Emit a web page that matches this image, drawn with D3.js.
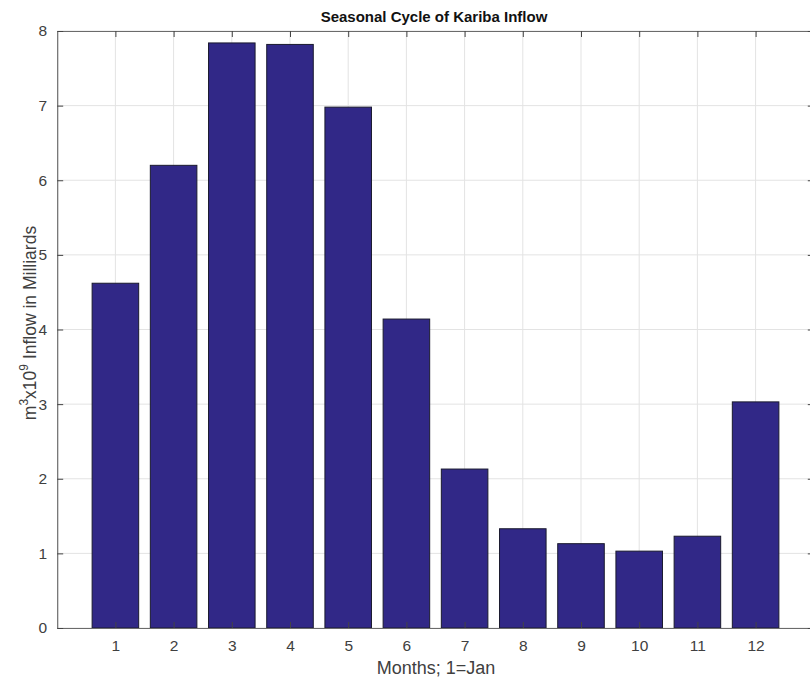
<!DOCTYPE html>
<html><head><meta charset="utf-8">
<script src="https://cdn.jsdelivr.net/npm/d3@7"></script>
<style>body{margin:0;background:#fff}svg{display:block;font-family:"Liberation Sans",Arial,sans-serif}</style>
</head><body><svg id="c" width="810" height="680"></svg>
<script>
const months = [1,2,3,4,5,6,7,8,9,10,11,12];
const inflow = [4.62,6.2,7.84,7.82,6.98,4.14,2.13,1.33,1.13,1.03,1.23,3.03];
const yTicks = [0,1,2,3,4,5,6,7,8];
const title = "Seasonal Cycle of Kariba Inflow";
const xLabel = "Months; 1=Jan";

const svg = d3.select("#c");
const L=57.2, R=813.8, T=31, B=628;
const x = d3.scaleLinear().domain([0,13]).range([L,R]);
const y = d3.scaleLinear().domain([0,8]).range([B,T]);
const bw = x(0.8)-x(0);
const txt="#404040";

// grid
const g = svg.append("g");
g.selectAll(".vg").data(months).join("line").attr("x1",d=>x(d)).attr("x2",d=>x(d)).attr("y1",T).attr("y2",B).attr("stroke","#e3e3e3");
g.selectAll(".hg").data(yTicks).join("line").attr("x1",L).attr("x2",R).attr("y1",d=>y(d)).attr("y2",d=>y(d)).attr("stroke","#e3e3e3");

// bars
svg.append("g").selectAll("rect").data(months).join("rect")
  .attr("x",(d)=>x(d)-bw/2).attr("width",bw)
  .attr("y",(d,i)=>y(inflow[i])).attr("height",(d,i)=>B-y(inflow[i]))
  .attr("fill","#312887").attr("stroke","#1a1a2e").attr("stroke-width",1);

// axes
const xa = svg.append("g").attr("transform",`translate(0,${B})`).call(d3.axisBottom(x).tickValues(months).tickSizeInner(-6).tickSizeOuter(0).tickPadding(12));
const xt = svg.append("g").attr("transform",`translate(0,${T})`).call(d3.axisTop(x).tickValues(months).tickSizeInner(-6).tickSizeOuter(0).tickFormat(""));
const ya = svg.append("g").attr("transform",`translate(${L},0)`).call(d3.axisLeft(y).tickValues(yTicks).tickSizeInner(-6).tickSizeOuter(0).tickPadding(10));
const yr = svg.append("g").attr("transform",`translate(${R},0)`).call(d3.axisRight(y).tickValues(yTicks).tickSizeInner(-6).tickSizeOuter(0).tickFormat(""));
[xa,xt,ya,yr].forEach(a=>{
  a.select(".domain").attr("stroke","#6b6b6b").attr("stroke-width",1.2);
  a.selectAll(".tick line").attr("stroke","#444");
  a.selectAll("text").attr("fill",txt).style("font-size","15.5px").style("font-family","'Liberation Sans',Arial,sans-serif");
});

svg.append("text").attr("x",434).attr("y",22).attr("text-anchor","middle")
  .style("font-size","15px").style("font-weight","bold").attr("fill","#111").text(title);
svg.append("text").attr("x",436).attr("y",674).attr("text-anchor","middle")
  .style("font-size","18px").attr("fill",txt).text(xLabel);
const yl = svg.append("text").attr("transform",`translate(36,323) rotate(-90)`).attr("text-anchor","middle")
  .style("font-size","17.5px").attr("fill",txt);
yl.append("tspan").text("m");
yl.append("tspan").attr("dy",-8).style("font-size","12px").text("3");
yl.append("tspan").attr("dy",8).text("x10");
yl.append("tspan").attr("dy",-8).style("font-size","12px").text("9");
yl.append("tspan").attr("dy",8).text(" Inflow in Milliards");
</script></body></html>
